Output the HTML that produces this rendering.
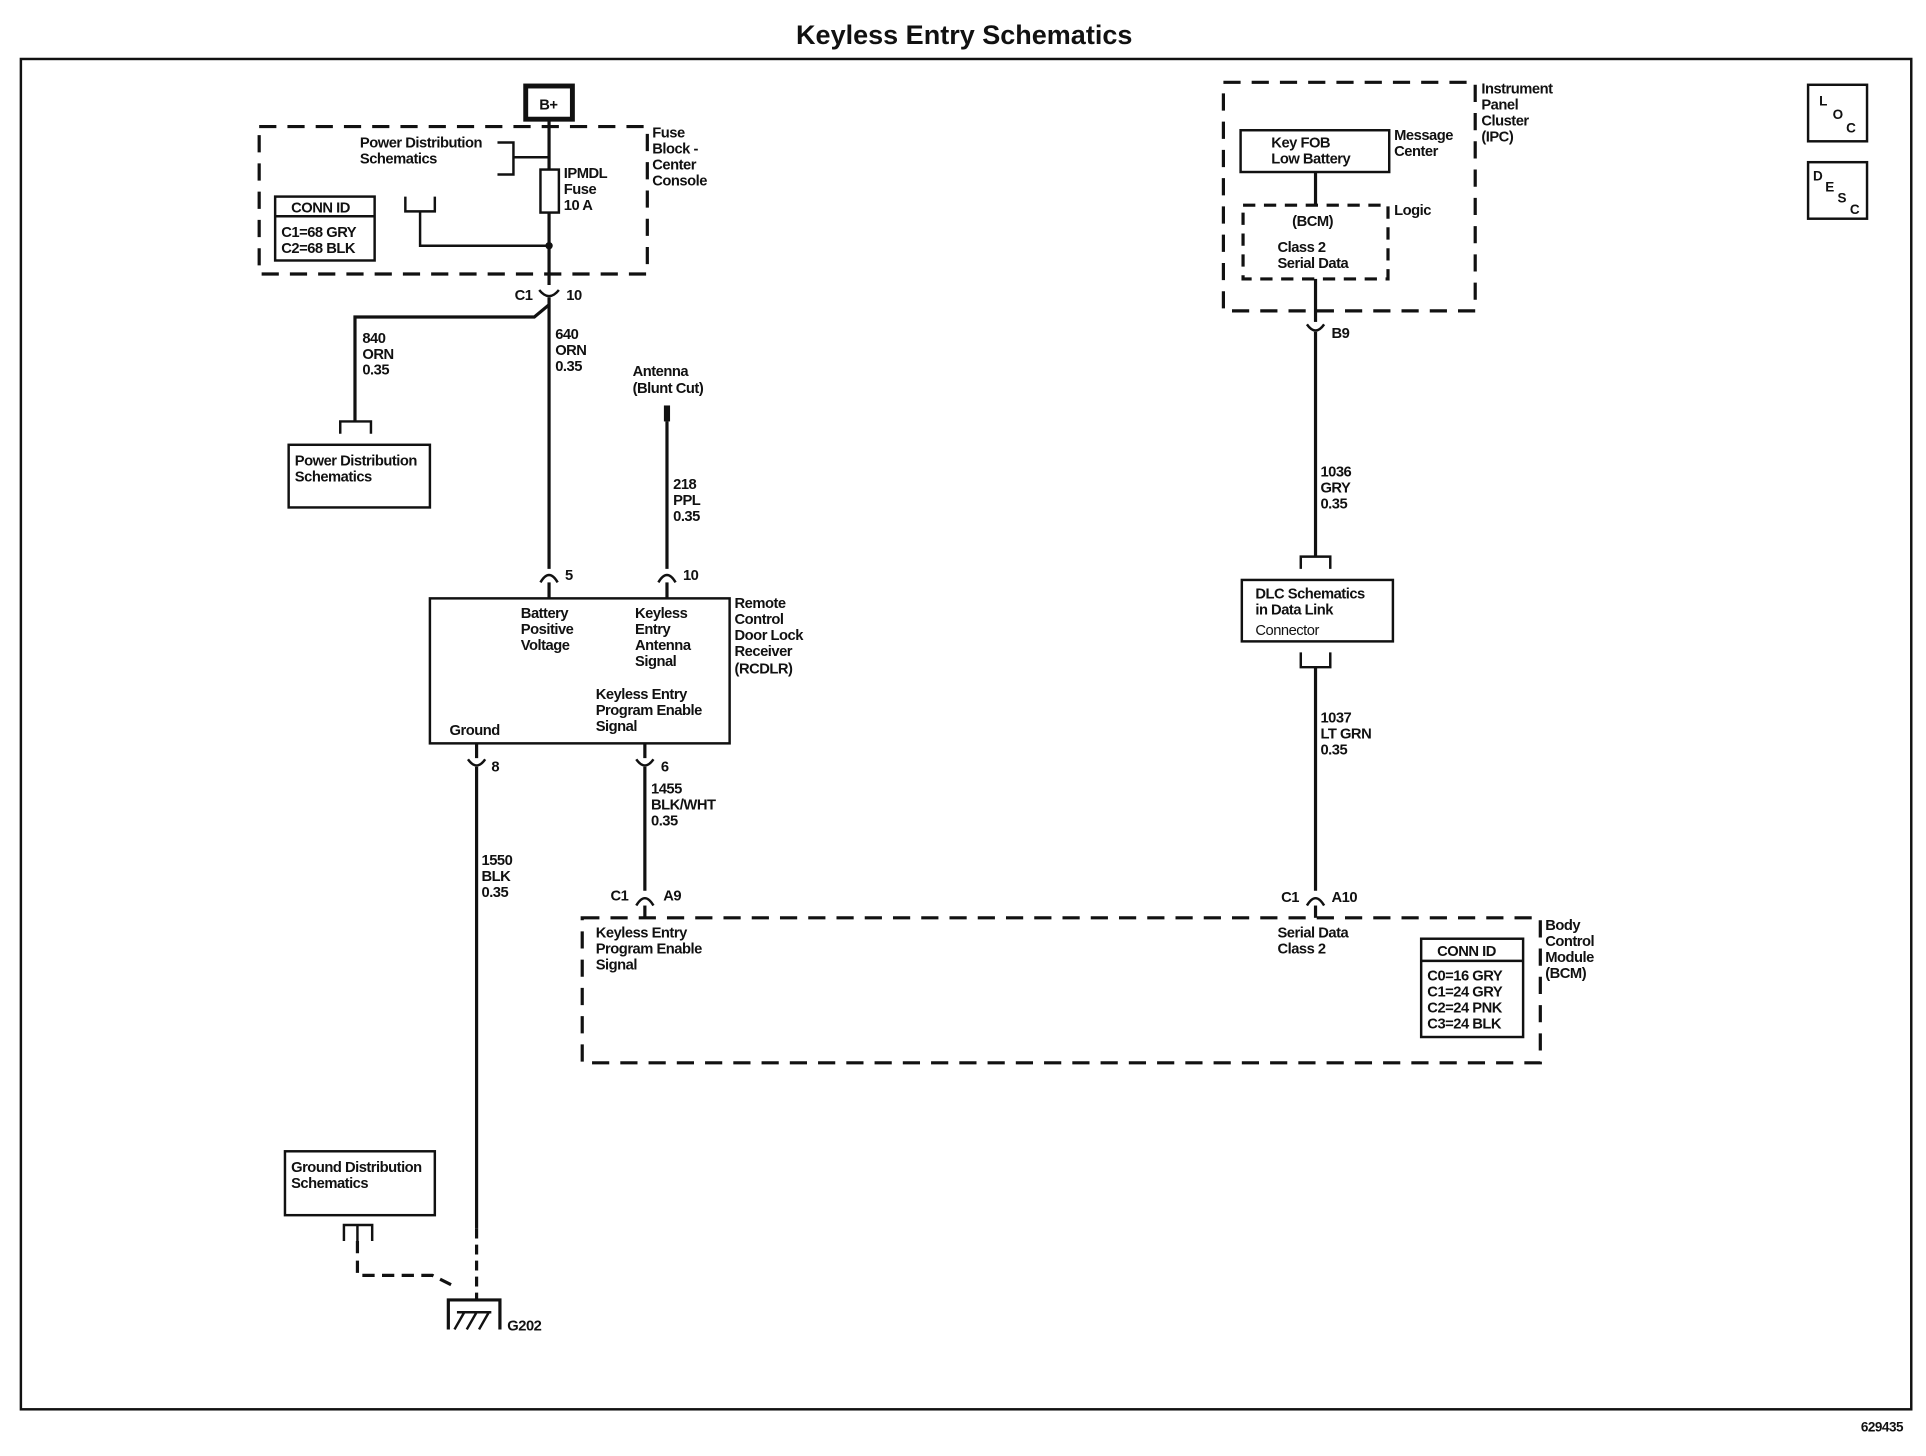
<!DOCTYPE html>
<html><head><meta charset="utf-8"><style>
html,body{margin:0;padding:0;background:#fff;}
svg{display:block}
text{font-family:"Liberation Sans",sans-serif;font-weight:bold;font-size:12px;fill:#111;letter-spacing:-0.4px}
.l{stroke:#111;stroke-width:2.6;fill:none}
.t{stroke:#111;stroke-width:2;fill:none}
.d{stroke:#111;stroke-width:2.6;fill:none;stroke-dasharray:14,9}
.b{stroke:#111;stroke-width:2;fill:#fff}
</style></head><body>
<svg width="1926" height="1456" viewBox="0 0 1568 1185" preserveAspectRatio="none" xmlns="http://www.w3.org/2000/svg">
<text x="785" y="36" text-anchor="middle" style="font-size:22px;letter-spacing:0">Keyless Entry Schematics</text>
<rect x="17" y="48" width="1539" height="1099" class="t"/>
<text x="1515" y="1165" style="font-size:11px">629435</text>

<!-- B+ -->
<rect x="428" y="70" width="38" height="27" style="stroke:#111;stroke-width:4;fill:#fff"/>
<text x="439" y="89">B+</text>
<rect x="211" y="103" width="316" height="120" class="d"/>
<text x="531" y="112">Fuse</text><text x="531" y="125">Block -</text><text x="531" y="138">Center</text><text x="531" y="151">Console</text>
<text x="293" y="120">Power Distribution</text><text x="293" y="133">Schematics</text>
<path d="M405 116 H418 V142 H405" class="t"/>
<path d="M418 128 H447" class="t"/>
<path d="M447 97 V138 M447 173 V232" class="l"/>
<rect x="440" y="138" width="15" height="35" class="t"/>
<text x="459" y="145">IPMDL</text><text x="459" y="158">Fuse</text><text x="459" y="171">10 A</text>
<path d="M330 160 V172 H354 V160 M342 172 V200 H447" class="t"/>
<circle cx="447" cy="200" r="3" fill="#111"/>
<rect x="224" y="160" width="81" height="52" class="t"/>
<line x1="224" y1="176" x2="305" y2="176" class="t"/>
<text x="237" y="173">CONN ID</text><text x="229" y="193">C1=68 GRY</text><text x="229" y="206">C2=68 BLK</text>

<!-- C1 10 -->
<path d="M439 236 Q447 246 455 236" class="t"/>
<text x="419" y="244">C1</text><text x="461" y="244">10</text>
<path d="M447 242 V463" class="l"/>
<path d="M447 248 L435 258 H289 V343" class="l"/>
<path d="M277 353 V343 H302 V353" class="t"/>
<text x="295" y="279">840</text><text x="295" y="292">ORN</text><text x="295" y="305">0.35</text>
<text x="452" y="276">640</text><text x="452" y="289">ORN</text><text x="452" y="302">0.35</text>
<rect x="235" y="362" width="115" height="51" class="t"/>
<text x="240" y="379">Power Distribution</text><text x="240" y="392">Schematics</text>

<!-- Antenna -->
<text x="515" y="306">Antenna</text><text x="515" y="320">(Blunt Cut)</text>
<path d="M543 330 V343" style="stroke:#111;stroke-width:5"/>
<path d="M543 343 V463" class="l"/>
<text x="548" y="398">218</text><text x="548" y="411">PPL</text><text x="548" y="424">0.35</text>

<!-- RCDLR -->
<path d="M440 474 Q447 462 454 474" class="t"/><path d="M447 474 V487" class="l"/>
<path d="M536 474 Q543 462 550 474" class="t"/><path d="M543 474 V487" class="l"/>
<text x="460" y="472">5</text><text x="556" y="472">10</text>
<rect x="350" y="487" width="244" height="118" class="t"/>
<text x="424" y="503">Battery</text><text x="424" y="516">Positive</text><text x="424" y="529">Voltage</text>
<text x="517" y="503">Keyless</text><text x="517" y="516">Entry</text><text x="517" y="529">Antenna</text><text x="517" y="542">Signal</text>
<text x="485" y="569">Keyless Entry</text><text x="485" y="582">Program Enable</text><text x="485" y="595">Signal</text>
<text x="366" y="598">Ground</text>
<text x="598" y="495">Remote</text><text x="598" y="508">Control</text><text x="598" y="521">Door Lock</text><text x="598" y="534">Receiver</text><text x="598" y="548">(RCDLR)</text>
<path d="M388 605 V617 M525 605 V617" class="l"/>
<path d="M381 618 Q388 628 395 618" class="t"/><path d="M518 618 Q525 628 532 618" class="t"/>
<text x="400" y="628">8</text><text x="538" y="628">6</text>
<path d="M525 624 V725" class="l"/>
<text x="530" y="646">1455</text><text x="530" y="659">BLK/WHT</text><text x="530" y="672">0.35</text>
<path d="M518 737 Q525 725 532 737" class="t"/><path d="M525 737 V747" class="l"/>
<text x="497" y="733">C1</text><text x="540" y="733">A9</text>
<path d="M388 624 V1000" class="l"/>
<path d="M388 1000 V1058" class="d" style="stroke-dasharray:8,5"/>
<text x="392" y="704">1550</text><text x="392" y="717">BLK</text><text x="392" y="730">0.35</text>

<!-- BCM -->
<rect x="474" y="747" width="780" height="118" class="d"/>
<text x="485" y="763">Keyless Entry</text><text x="485" y="776">Program Enable</text><text x="485" y="789">Signal</text>
<text x="1040" y="763">Serial Data</text><text x="1040" y="776">Class 2</text>
<text x="1258" y="757">Body</text><text x="1258" y="770">Control</text><text x="1258" y="783">Module</text><text x="1258" y="796">(BCM)</text>
<rect x="1157" y="764" width="83" height="80" class="t"/>
<line x1="1157" y1="782" x2="1240" y2="782" class="t"/>
<text x="1170" y="778">CONN ID</text>
<text x="1162" y="798">C0=16 GRY</text><text x="1162" y="811">C1=24 GRY</text><text x="1162" y="824">C2=24 PNK</text><text x="1162" y="837">C3=24 BLK</text>

<!-- Ground -->
<rect x="232" y="937" width="122" height="52" class="t"/>
<text x="237" y="954">Ground Distribution</text><text x="237" y="967">Schematics</text>
<path d="M280 1010 V997 H303 V1010 M291 997 V1010" class="t"/>
<path d="M291 1010 V1038 H352 L372 1048" class="d" style="stroke-dasharray:10,6"/>
<path d="M365 1082 V1058 H407 V1082" class="l"/>
<path d="M370 1082 L378 1068 M380 1082 L388 1068 M390 1082 L398 1068 M372 1068 H400" class="t"/>
<text x="413" y="1083">G202</text>

<!-- IPC -->
<rect x="996" y="67" width="205" height="186" class="d"/>
<text x="1206" y="76">Instrument</text><text x="1206" y="89">Panel</text><text x="1206" y="102">Cluster</text><text x="1206" y="115">(IPC)</text>
<rect x="1010" y="106" width="121" height="34" class="t"/>
<text x="1035" y="120">Key FOB</text><text x="1035" y="133">Low Battery</text>
<text x="1135" y="114">Message</text><text x="1135" y="127">Center</text>
<path d="M1071 140 V167" class="l"/>
<rect x="1012" y="167" width="118" height="60" class="d" style="stroke-dasharray:10,7"/>
<text x="1135" y="175">Logic</text>
<text x="1052" y="184">(BCM)</text><text x="1040" y="205">Class 2</text><text x="1040" y="218">Serial Data</text>
<path d="M1071 227 V262" class="l"/>
<path d="M1064 264 Q1071 274 1078 264" class="t"/>
<text x="1084" y="275">B9</text>
<path d="M1071 270 V453" class="l"/>
<text x="1075" y="388">1036</text><text x="1075" y="401">GRY</text><text x="1075" y="414">0.35</text>
<path d="M1059 463 V453 H1083 V463" class="t"/>
<rect x="1011" y="472" width="123" height="50" class="t"/>
<text x="1022" y="487">DLC Schematics</text><text x="1022" y="500">in Data Link</text><text x="1022" y="517" style="font-weight:normal">Connector</text>
<path d="M1059 531 V543 H1083 V531" class="t"/>
<path d="M1071 543 V725" class="l"/>
<text x="1075" y="588">1037</text><text x="1075" y="601">LT GRN</text><text x="1075" y="614">0.35</text>
<path d="M1064 737 Q1071 725 1078 737" class="t"/><path d="M1071 737 V747" class="l"/>
<text x="1043" y="734">C1</text><text x="1084" y="734">A10</text>

<!-- LOC / DESC -->
<rect x="1472" y="69" width="48" height="46" class="t"/>
<text x="1481" y="86" style="font-size:11px">L</text><text x="1492" y="97" style="font-size:11px">O</text><text x="1503" y="108" style="font-size:11px">C</text>
<rect x="1472" y="132" width="48" height="46" class="t"/>
<text x="1476" y="147" style="font-size:11px">D</text><text x="1486" y="156" style="font-size:11px">E</text><text x="1496" y="165" style="font-size:11px">S</text><text x="1506" y="174" style="font-size:11px">C</text>
</svg>
</body></html>
